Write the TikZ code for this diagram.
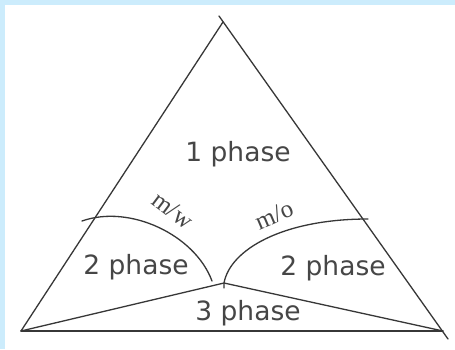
\documentclass[tikz,border=0pt]{standalone}
\usepackage{fontspec}
\setmainfont{Liberation Serif}
\newfontfamily\labelfont{DejaVu Sans}
\usetikzlibrary{calc,positioning}
\definecolor{FrameBlue}{RGB}{204,236,252}
\definecolor{LineGray}{RGB}{55,55,55}
\definecolor{TextGray}{RGB}{70,70,70}
\tikzset{
    edge/.style={line width=1.3pt,LineGray,line cap=round},
    phaselabel/.style={font=\labelfont\fontsize{26.5}{26.5}\selectfont,TextGray,inner sep=0pt},
    curvelabel/.style={font=\fontsize{25}{25}\selectfont,TextGray,inner sep=0pt}
}

\begin{document}
\begin{tikzpicture}[x=1pt,y=-1pt]
\useasboundingbox (0,0) rectangle (455,349);
				\fill[FrameBlue] (0,0) rectangle (455,349);
				\fill[white] (5,5) rectangle (455,349);
				
				% corners
				\coordinate (top) at (223,22);
				\coordinate (topx) at (219,16);
				\coordinate (left) at (21,331);
				\coordinate (right) at (443,331);
				\coordinate (rightx) at (448,339);
				\coordinate (mid) at (224,283);
				\coordinate (midx) at (224,288);
				\coordinate (mwstart) at (82,221);
				\coordinate (mwend) at (212,281);
				\coordinate (moend) at (368,219);
				
				% triangle
				\draw[edge] (left) -- (top);
				\draw[edge] (topx) -- (rightx);
				\draw[edge] (left) -- (right);
				
				% three phase region
				\draw[edge] (left) -- (mid) -- (right);
				
				% binodal curves
				\draw[edge] (mwstart) .. controls (130,204) and (195,235) .. (mwend);
				\draw[edge] (midx) -- (mid) .. controls (230,250) and (282,219) .. (moend);
				
				% labels
				\node[phaselabel] (one) at (238,154) {1 phase};
				\node[phaselabel] (twoleft) at (136,267) {2 phase};
				\node[phaselabel] (tworight) at (333,268) {2 phase};
				\node[phaselabel] (three) at (248,313) {3 phase};
				\node[curvelabel,rotate=-37] (mw) at (173,210) {m/w};
				\node[curvelabel,rotate=23] (mo) at (274,215) {m/o};
\end{tikzpicture}
\end{document}
